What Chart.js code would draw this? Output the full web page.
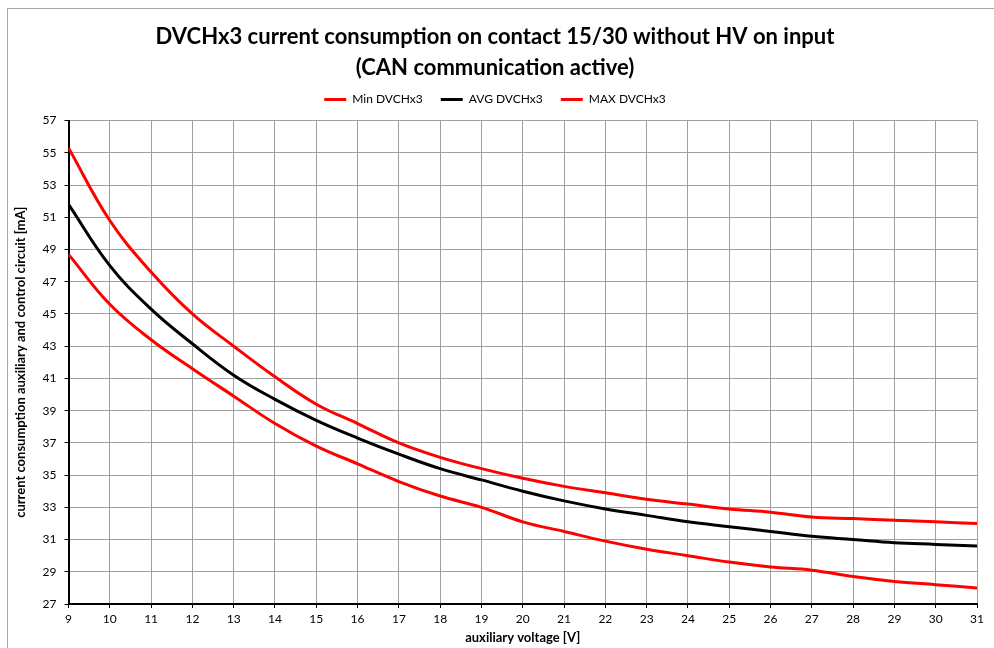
<!DOCTYPE html>
<html>
<head>
<meta charset="utf-8">
<script src="https://cdn.jsdelivr.net/npm/chart.js@4.4.1/dist/chart.umd.min.js"></script>
<style>
  html, body { margin: 0; padding: 0; background: #fff; }
  #wrap { position: relative; width: 994px; height: 648px; overflow: hidden; }
  #frame { position: absolute; left: 7px; top: 8px; width: 1000px; height: 700px; border: 1px solid #a6a6a6; box-sizing: border-box; }
  canvas { position: absolute; left: 0; top: 0; }
</style>
</head>
<body>
<div id="wrap">
  <div id="frame"></div>
  <canvas id="chart" width="994" height="648"></canvas>
</div>
<script>
// valores
const volts = [9, 10, 11, 12, 13, 14, 15, 16, 17, 18, 19, 20, 21, 22, 23, 24, 25, 26, 27, 28, 29, 30, 31];
const minVals = [48.7, 45.6, 43.4, 41.6, 39.9, 38.2, 36.8, 35.7, 34.6, 33.7, 33.0, 32.1, 31.5, 30.9, 30.4, 30.0, 29.6, 29.3, 29.1, 28.7, 28.4, 28.2, 28.0];
const avgVals = [51.8, 48.0, 45.3, 43.15, 41.2, 39.7, 38.4, 37.3, 36.3, 35.4, 34.7, 34.0, 33.4, 32.9, 32.5, 32.1, 31.8, 31.5, 31.2, 31.0, 30.8, 30.7, 30.6];
const maxVals = [55.3, 50.8, 47.6, 45.0, 43.0, 41.1, 39.4, 38.2, 37.0, 36.1, 35.4, 34.8, 34.3, 33.9, 33.5, 33.2, 32.9, 32.7, 32.4, 32.3, 32.2, 32.1, 32.0];

const seriesNames = ['Min DVCHx3', 'AVG DVCHx3', 'MAX DVCHx3'];
const seriesColors = ['#ff0000', '#000000', '#ff0000'];

const fonte = 'Lato, "Liberation Sans", sans-serif';

function pontos(vals) {
  return volts.map((v, i) => ({ x: v, y: vals[i] }));
}

const datasets = [minVals, avgVals, maxVals].map((vals, i) => ({
  label: seriesNames[i],
  data: pontos(vals),
  borderColor: seriesColors[i],
  backgroundColor: seriesColors[i],
  borderWidth: 3,
  pointRadius: 0,
  tension: 0.4,
  fill: false
}));

// espaço extra abaixo da legenda
const espacoLegenda = {
  id: 'espacoLegenda',
  beforeInit(chart) {
    const fitOriginal = chart.legend.fit;
    chart.legend.fit = function () {
      fitOriginal.bind(chart.legend)();
      this.height += 5;
    };
  }
};

new Chart(document.getElementById('chart').getContext('2d'), {
  type: 'line',
  data: { datasets },
  plugins: [espacoLegenda],
  options: {
    responsive: false,
    animation: false,
    layout: { padding: { left: 13, right: 17, top: 10, bottom: 2 } },
    plugins: {
      title: {
        display: true,
        text: ['DVCHx3 current consumption on contact 15/30 without HV on input', '(CAN communication active)'],
        color: '#000',
        font: { family: fonte, size: 22, weight: 'bold', lineHeight: 1.4 },
        padding: { top: 12, bottom: -8 }
      },
      legend: {
        display: true,
        labels: {
          color: '#000',
          font: { family: fonte, size: 12 },
          boxWidth: 22,
          boxHeight: 3,
          padding: 18,
          generateLabels: (chart) => Chart.defaults.plugins.legend.labels.generateLabels(chart).map(l => ({ ...l, lineWidth: 0 }))
        }
      },
      tooltip: { enabled: false }
    },
    scales: {
      x: {
        type: 'linear',
        min: 9,
        max: 31,
        ticks: { stepSize: 1, color: '#000', font: { family: fonte, size: 12 }, padding: 4 },
        grid: { color: '#a0a0a0', tickColor: '#000', tickLength: 4 },
        border: { color: '#000', width: 2 },
        title: { display: true, text: 'auxiliary voltage [V]', color: '#000', font: { family: fonte, size: 13, weight: 'bold' }, padding: { top: 0, bottom: 0 } }
      },
      y: {
        min: 27,
        max: 57,
        ticks: { stepSize: 2, color: '#000', font: { family: fonte, size: 12 }, padding: 8 },
        grid: { color: '#a0a0a0', tickColor: '#000', tickLength: 4 },
        border: { color: '#000', width: 2 },
        title: { display: true, text: 'current consumption auxiliary and control circuit [mA]', color: '#000', font: { family: fonte, size: 13, weight: 'bold' }, padding: { top: 0, bottom: 6 } }
      }
    }
  }
});
</script>
</body>
</html>
